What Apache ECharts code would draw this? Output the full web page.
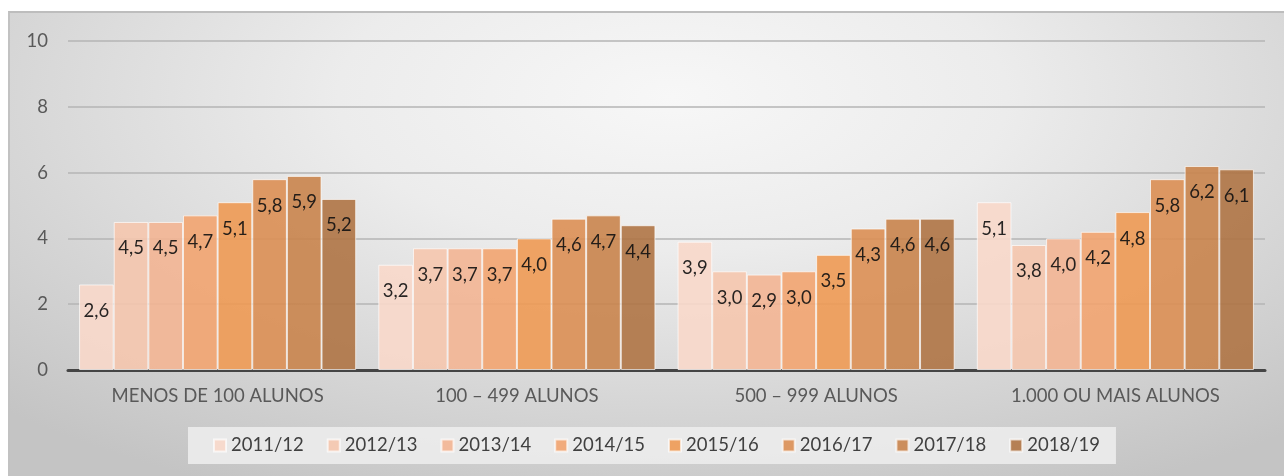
<!DOCTYPE html>
<html>
<head>
<meta charset="utf-8">
<script src="https://cdn.jsdelivr.net/npm/echarts@6/dist/echarts.min.js"></script>
<style>
	html, body {
		margin: 0;
		padding: 0;
		background: #ffffff;
	}
	.frame {
		position: absolute;
		left: 8px;
		top: 11px;
		width: 1276px;
		height: 465px;
		box-sizing: border-box;
		border-top: 2px solid #bdbdbd;
		border-left: 2px solid #c2c2c2;
		background: radial-gradient(ellipse 75% 95% at 52% 18%, #f7f7f7 0%, #ececec 35%, #d6d6d6 70%, #c4c4c4 100%);
	}
	#chart {
		position: absolute;
		left: 0;
		top: 0;
		width: 1284px;
		height: 476px;
	}
</style>
</head>
<body>
<div class="frame"></div>
<div id="chart"></div>
<script>
	// categorias (dimensão da escola)
	const categories = ['MENOS DE 100 ALUNOS', '100 – 499 ALUNOS', '500 – 999 ALUNOS', '1.000 OU MAIS ALUNOS']
	const years = ['2011/12', '2012/13', '2013/14', '2014/15', '2015/16', '2016/17', '2017/18', '2018/19']
	const yTicks = [0, 2, 4, 6, 8, 10]

	// valores por ano letivo
	const v2011 = [2.6, 3.2, 3.9, 5.1]
	const v2012 = [4.5, 3.7, 3.0, 3.8]
	const v2013 = [4.5, 3.7, 2.9, 4.0]
	const v2014 = [4.7, 3.7, 3.0, 4.2]
	const v2015 = [5.1, 4.0, 3.5, 4.8]
	const v2016 = [5.8, 4.6, 4.3, 5.8]
	const v2017 = [5.9, 4.7, 4.6, 6.2]
	const v2018 = [5.2, 4.4, 4.6, 6.1]
	const values = [v2011, v2012, v2013, v2014, v2015, v2016, v2017, v2018]

	const colors = ['#f8d8ca', '#f5c6ae', '#f3b593', '#f2a470', '#ee9a54', '#dc8f54', '#c9844d', '#af7445']
	const fontName = 'Lato'

	const myChart = echarts.init(document.getElementById('chart'))

	const series = years.map((name, i) => ({
		name: name,
		type: 'bar',
		data: values[i],
		barGap: '0%',
		barCategoryGap: '7.4%',
		itemStyle: {
			color: colors[i],
			opacity: 0.9,
			borderColor: 'rgba(255,255,255,0.75)',
			borderWidth: 1
		},
		label: {
			show: true,
			position: 'insideTop',
			distance: 17,
			color: '#111111',
			fontFamily: fontName,
			fontSize: 18.5,
			formatter: (p) => p.value.toFixed(1).replace('.', ',')
		}
	}))

	const option = {
		backgroundColor: 'transparent',
		animation: false,
		textStyle: { fontFamily: fontName },
		grid: {
			left: 68,
			right: 19,
			top: 41,
			bottom: 106
		},
		legend: {
			data: years,
			left: 188,
			top: 427,
			padding: [9, 16, 9, 25],
			backgroundColor: 'rgba(236,236,236,0.9)',
			itemWidth: 12,
			itemHeight: 12,
			itemGap: 23,
			icon: 'rect',
			textStyle: {
				color: '#404040',
				fontFamily: fontName,
				fontSize: 18.5
			}
		},
		xAxis: {
			type: 'category',
			data: categories,
			axisTick: { show: false },
			axisLine: {
				lineStyle: { color: '#454545', width: 3 }
			},
			axisLabel: {
				color: '#595959',
				fontFamily: fontName,
				fontSize: 18.5,
				margin: 17
			}
		},
		yAxis: {
			type: 'value',
			min: yTicks[0],
			max: yTicks[yTicks.length - 1],
			interval: yTicks[1] - yTicks[0],
			axisLine: { show: false },
			axisTick: { show: false },
			axisLabel: {
				color: '#595959',
				fontFamily: fontName,
				fontSize: 18.5,
				margin: 20
			},
			splitLine: {
				lineStyle: { color: '#b4b4b4', width: 1.5 }
			}
		},
		series: series
	}

	myChart.setOption(option)
</script>
</body>
</html>
